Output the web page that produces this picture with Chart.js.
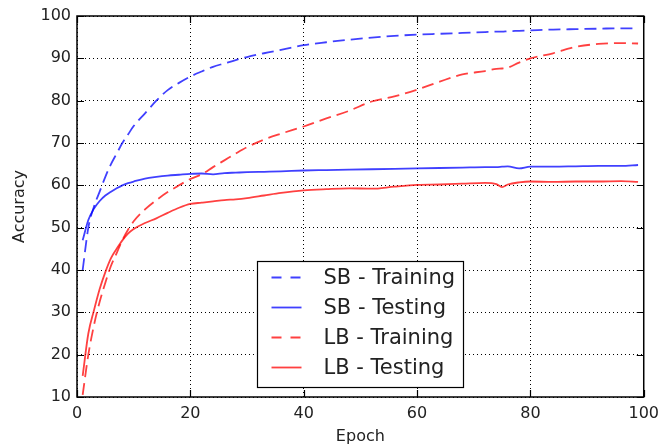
<!DOCTYPE html>
<html>
<head>
<meta charset="utf-8">
<script src="https://cdn.jsdelivr.net/npm/chart.js@4.4.0/dist/chart.umd.min.js"></script>
<style>
  body { margin: 0; background: #fff; }
  #wrap { width: 666px; height: 446px; }
</style>
</head>
<body>
<div id="wrap"><canvas id="chart" width="666" height="446"></canvas></div>
<script>
// values
const epochs  = [1, 2, 3, 4, 5, 6, 7, 8, 9, 10, 12, 14, 16, 18, 20, 22, 24, 26, 28, 30, 33, 36, 40, 44, 48, 52, 56, 60, 64, 68, 72, 74, 75, 76, 78, 80, 84, 88, 92, 96, 99]
const sbTrain = [40, 50, 55, 58.5, 62, 65, 67.5, 70, 72, 74, 77, 80, 82.5, 84.2, 85.7, 86.9, 88, 88.8, 89.6, 90.3, 91.2, 92, 93.1, 93.8, 94.4, 94.9, 95.3, 95.6, 95.8, 96, 96.2, 96.3, 96.3, 96.4, 96.5, 96.6, 96.8, 96.9, 97, 97.1, 97.1]
const sbTest  = [47, 51.8, 54.5, 56.3, 57.6, 58.5, 59.3, 60, 60.5, 60.9, 61.6, 62, 62.3, 62.5, 62.7, 62.8, 62.6, 62.9, 63, 63.1, 63.2, 63.3, 63.5, 63.6, 63.7, 63.8, 63.9, 64, 64.1, 64.2, 64.3, 64.3, 64.4, 64.5, 64, 64.4, 64.4, 64.5, 64.6, 64.6, 64.8]
const lbTrain = [10.5, 20, 27, 32.5, 37, 41, 44, 47, 49.5, 51.5, 54.3, 56.5, 58.4, 60, 61.5, 62.6, 64.3, 65.9, 67.5, 69, 70.8, 72.2, 73.9, 75.8, 77.6, 79.8, 81, 82.6, 84.5, 86.2, 87, 87.5, 87.6, 87.8, 89, 90, 91.2, 92.7, 93.4, 93.6, 93.5]
const lbTest  = [15, 25, 30.5, 35.5, 39.5, 42.8, 45, 47, 48.6, 49.7, 51.1, 52.2, 53.5, 54.7, 55.6, 55.9, 56.2, 56.5, 56.7, 57, 57.6, 58.2, 58.8, 59.1, 59.3, 59.2, 59.7, 60.1, 60.2, 60.4, 60.6, 60.3, 59.6, 60.2, 60.7, 60.9, 60.8, 60.9, 60.9, 61, 60.8]

const xTicks = [0, 20, 40, 60, 80, 100]
const yTicks = [10, 20, 30, 40, 50, 60, 70, 80, 90, 100]

const blue = 'rgba(0, 0, 255, 0.75)'
const red = 'rgba(255, 0, 0, 0.75)'
const font = 'DejaVu Sans'

const points = values => epochs.map((e, i) => ({ x: e, y: values[i] }))

const series = [
    { label: 'SB - Training', values: sbTrain, color: blue, dash: [12, 6] },
    { label: 'SB - Testing', values: sbTest, color: blue, dash: [] },
    { label: 'LB - Training', values: lbTrain, color: red, dash: [12, 6] },
    { label: 'LB - Testing', values: lbTest, color: red, dash: [] }
]

// inward ticks + frame, like matplotlib classic
const frameTicks = {
    id: 'frameTicks',
    afterDatasetsDraw(chart) {
        const { ctx, chartArea: { left, right, top, bottom }, scales: { x, y } } = chart
        ctx.save()
        ctx.strokeStyle = '#000'
        ctx.lineWidth = 1.2
        ctx.beginPath()
        x.ticks.forEach(t => {
            const px = Math.round(x.getPixelForValue(t.value)) + 0.5
            ctx.moveTo(px, bottom); ctx.lineTo(px, bottom - 7)
            ctx.moveTo(px, top); ctx.lineTo(px, top + 7)
        })
        y.ticks.forEach(t => {
            const py = Math.round(y.getPixelForValue(t.value)) + 0.5
            ctx.moveTo(left, py); ctx.lineTo(left + 7, py)
            ctx.moveTo(right, py); ctx.lineTo(right - 7, py)
        })
        ctx.stroke()
        ctx.lineWidth = 1.5
        ctx.strokeRect(left, top, right - left, bottom - top)
        ctx.restore()
    }
}

// legend box, lower center inside the plot
const boxLegend = {
    id: 'boxLegend',
    afterDraw(chart) {
        const { ctx, chartArea } = chart
        const w = 206, h = 126
        const bx = Math.round((chartArea.left + chartArea.right) / 2 - w / 2) + 0.5
        const by = Math.round(chartArea.bottom - 10 - h) + 0.5
        ctx.save()
        ctx.fillStyle = '#fff'
        ctx.fillRect(bx, by, w, h)
        ctx.strokeStyle = '#000'
        ctx.lineWidth = 1.2
        ctx.strokeRect(bx, by, w, h)
        ctx.font = `21px "${font}"`
        ctx.textBaseline = 'middle'
        chart.data.datasets.forEach((ds, i) => {
            const ry = by + 16 + i * 30
            ctx.strokeStyle = ds.borderColor
            ctx.lineWidth = 1.8
            ctx.setLineDash(ds.borderDash.length ? [10, 9] : [])
            ctx.beginPath()
            ctx.moveTo(bx + 14, ry)
            ctx.lineTo(bx + 44, ry)
            ctx.stroke()
            ctx.setLineDash([])
            ctx.fillStyle = '#222'
            ctx.fillText(ds.label, bx + 66, ry + 1)
        })
        ctx.restore()
    }
}

new Chart(document.getElementById('chart'), {
    type: 'line',
    data: {
        datasets: series.map(s => ({
            label: s.label,
            data: points(s.values),
            borderColor: s.color,
            borderDash: s.dash,
            borderWidth: 1.8,
            pointRadius: 0,
            fill: false,
            cubicInterpolationMode: 'monotone'
        }))
    },
    options: {
        responsive: false,
        animation: false,
        layout: { padding: { top: 16, right: 18, left: 0, bottom: 0 } },
        plugins: {
            legend: { display: false },
            tooltip: { enabled: false }
        },
        scales: {
            x: {
                type: 'linear',
                min: 0,
                max: 100,
                afterFit: scale => { scale.height = 49 },
                afterBuildTicks: scale => { scale.ticks = xTicks.map(v => ({ value: v })) },
                ticks: { color: '#222', font: { family: font, size: 16 }, padding: 7, maxRotation: 0 },
                grid: { color: '#000', lineWidth: 1, drawTicks: false },
                border: { display: false, dash: [1, 3] },
                title: { display: true, text: 'Epoch', color: '#222', font: { family: font, size: 16 }, padding: 0 }
            },
            y: {
                min: 10,
                max: 100,
                afterFit: scale => { scale.width = 77 },
                afterBuildTicks: scale => { scale.ticks = yTicks.map(v => ({ value: v })) },
                ticks: { color: '#222', font: { family: font, size: 16 }, padding: 6 },
                grid: { color: '#000', lineWidth: 1, drawTicks: false },
                border: { display: false, dash: [1, 3] },
                title: { display: true, text: 'Accuracy', color: '#222', font: { family: font, size: 16 }, padding: { top: 10, bottom: 0 } }
            }
        }
    },
    plugins: [frameTicks, boxLegend]
})
</script>
</body>
</html>
